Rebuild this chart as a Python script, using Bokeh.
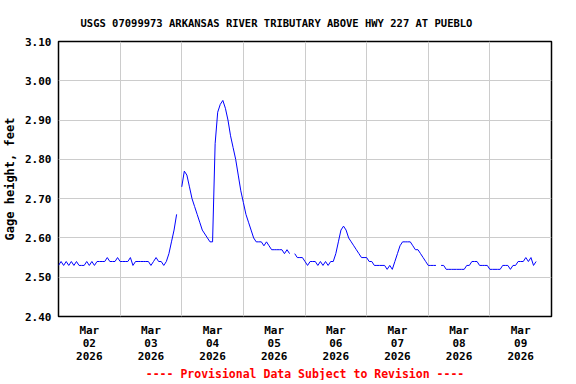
import numpy as np
import pandas as pd
from bokeh.plotting import figure
from bokeh.models import (FixedTicker, DatetimeTickFormatter, NumeralTickFormatter,
                          Range1d, Title, ColumnDataSource)
from bokeh.embed import file_html
from bokeh.resources import INLINE

title_text = "USGS 07099973 ARKANSAS RIVER TRIBUTARY ABOVE HWY 227 AT PUEBLO"
y_label = "Gage height, feet"
footer_text = "---- Provisional Data Subject to Revision ----"

start_time = "2026-03-02 00:00"
end_time = "2026-03-10 00:00"

# hourly gage height, feet (None = gap in record)
gage_ft = [
    2.53, 2.54, 2.53, 2.54, 2.53, 2.54, 2.53, 2.54, 2.53, 2.53, 2.53, 2.54,
    2.53, 2.54, 2.53, 2.54, 2.54, 2.54, 2.54, 2.55, 2.54, 2.54, 2.54, 2.55,
    2.54, 2.54, 2.54, 2.54, 2.55, 2.53, 2.54, 2.54, 2.54, 2.54, 2.54, 2.54,
    2.53, 2.54, 2.55, 2.54, 2.54, 2.53, 2.54, 2.56, 2.59, 2.62, 2.66, None,
    2.73, 2.77, 2.76, 2.73, 2.70, 2.68, 2.66, 2.64, 2.62, 2.61, 2.60, 2.59,
    2.59, 2.84, 2.92, 2.94, 2.95, 2.93, 2.90, 2.86, 2.83, 2.80, 2.76, 2.72,
    2.69, 2.66, 2.64, 2.62, 2.60, 2.59, 2.59, 2.59, 2.58, 2.59, 2.58, 2.57,
    2.57, 2.57, 2.57, 2.57, 2.56, 2.57, 2.56, None, 2.56, 2.55, 2.55, 2.55,
    2.54, 2.53, 2.54, 2.54, 2.54, 2.53, 2.54, 2.53, 2.54, 2.53, 2.54, 2.54,
    2.56, 2.59, 2.62, 2.63, 2.62, 2.60, 2.59, 2.58, 2.57, 2.56, 2.55, 2.55,
    2.55, 2.54, 2.54, 2.53, 2.53, 2.53, 2.53, 2.53, 2.52, 2.53, 2.52, 2.54,
    2.56, 2.58, 2.59, 2.59, 2.59, 2.59, 2.58, 2.57, 2.57, 2.56, 2.55, 2.54,
    2.53, 2.53, 2.53, 2.53, None, 2.53, 2.53, 2.52, 2.52, 2.52, 2.52, 2.52,
    2.52, 2.52, 2.52, 2.53, 2.53, 2.54, 2.54, 2.54, 2.53, 2.53, 2.53, 2.53,
    2.52, 2.52, 2.52, 2.52, 2.52, 2.53, 2.53, 2.53, 2.52, 2.53, 2.53, 2.54,
    2.54, 2.54, 2.55, 2.54, 2.55, 2.53, 2.54,
]

y_ticks = [2.40, 2.50, 2.60, 2.70, 2.80, 2.90, 3.00, 3.10]
label_days = ["2026-03-02", "2026-03-03", "2026-03-04", "2026-03-05",
              "2026-03-06", "2026-03-07", "2026-03-08", "2026-03-09"]
grid_days = ["2026-03-03", "2026-03-04", "2026-03-05", "2026-03-06",
             "2026-03-07", "2026-03-08", "2026-03-09"]


def ms(ts):
    return float(pd.Timestamp(ts).value / 1e6)


times = pd.date_range(start_time, periods=len(gage_ft), freq="h")
vals = np.array([np.nan if v is None else v for v in gage_ft], dtype=float)
src = ColumnDataSource(dict(t=times, h=vals))

MONO = "DejaVu Sans Mono"

p = figure(frame_width=493, frame_height=275, x_axis_type="datetime",
           x_range=Range1d(pd.Timestamp(start_time), pd.Timestamp(end_time)),
           y_range=Range1d(2.40, 3.10),
           output_backend="svg", toolbar_location=None,
           min_border_left=49, min_border_right=17,
           min_border_top=41, min_border_bottom=58)

p.background_fill_color = "white"
p.border_fill_color = "white"
p.outline_line_color = "black"
p.outline_line_width = 1.5

p.line("t", "h", source=src, line_color="#0000ff", line_width=1)

# title
p.title.text = title_text
p.title.align = "left"
p.title.offset = 22
p.title.standoff = 25
p.title.text_font = MONO
p.title.text_font_style = "bold"
p.title.text_font_size = "10.5px"
p.title.text_color = "black"

# x axis
xa = p.xaxis[0]
xa.ticker = FixedTicker(ticks=[ms(d) + 12 * 3600 * 1000 for d in label_days])
fmt = "%b\n%d\n%Y"
xa.formatter = DatetimeTickFormatter(
    microseconds=fmt, milliseconds=fmt, seconds=fmt, minsec=fmt, minutes=fmt,
    hourmin=fmt, hours=fmt, days=fmt, months=fmt, years=fmt)
xa.axis_line_color = None
xa.major_tick_line_color = None
xa.minor_tick_line_color = None
xa.major_tick_out = 0
xa.major_tick_in = 0
xa.major_label_text_font = MONO
xa.major_label_text_font_style = "bold"
xa.major_label_text_font_size = "11px"
xa.major_label_text_line_height = 1.0
xa.major_label_text_color = "black"
xa.major_label_standoff = 7

# y axis
ya = p.yaxis[0]
ya.ticker = FixedTicker(ticks=y_ticks)
ya.formatter = NumeralTickFormatter(format="0.00")
ya.axis_line_color = None
ya.major_tick_line_color = None
ya.minor_tick_line_color = None
ya.major_tick_out = 0
ya.major_tick_in = 0
ya.major_label_text_font = MONO
ya.major_label_text_font_style = "bold"
ya.major_label_text_font_size = "11px"
ya.major_label_text_color = "black"
ya.major_label_standoff = 7
ya.axis_label = y_label
ya.axis_label_text_font = MONO
ya.axis_label_text_font_style = "bold"
ya.axis_label_text_font_size = "12px"
ya.axis_label_text_color = "black"
ya.axis_label_standoff = 5

# grids
p.xgrid.ticker = FixedTicker(ticks=[ms(d) for d in grid_days])
p.ygrid.ticker = FixedTicker(ticks=y_ticks)
p.xgrid.grid_line_color = "#cccccc"
p.ygrid.grid_line_color = "#cccccc"
p.xgrid.grid_line_width = 1
p.ygrid.grid_line_width = 1

footer = Title(text=footer_text, align="center", text_color="#ff0000",
               text_font=MONO, text_font_style="bold", text_font_size="11.5px",
               standoff=-1)
p.add_layout(footer, "below")

open("out.html", "w").write(file_html(p, INLINE))
